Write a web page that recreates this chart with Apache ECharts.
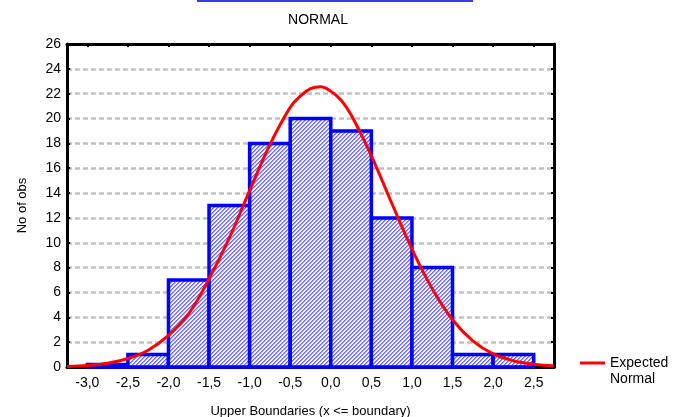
<!DOCTYPE html>
<html>
<head>
<meta charset="utf-8">
<script src="https://cdn.jsdelivr.net/npm/echarts@6/dist/echarts.min.js"></script>
<style>
html,body{margin:0;padding:0;background:#fff;}
#chart{width:678px;height:417px;}
</style>
</head>
<body>
<div id="chart"></div>
<script>
// Histogram bins: lower bound, upper bound, count
var binLower = [-3.0, -2.5, -2.0, -1.5, -1.0, -0.5, 0.0, 0.5, 1.0, 1.5, 2.0];
var binUpper = [-2.5, -2.0, -1.5, -1.0, -0.5, 0.0, 0.5, 1.0, 1.5, 2.0, 2.5];
var counts   = [0.2, 1, 7, 13, 18, 20, 19, 12, 8, 1, 1];

// Expected normal curve
var curveX = [-3.25, -3.0, -2.75, -2.5, -2.25, -2.0, -1.75, -1.5, -1.25, -1.0, -0.75, -0.5, -0.375, -0.25, -0.125, 0.0, 0.125, 0.25, 0.5, 0.75, 1.0, 1.25, 1.5, 1.75, 2.0, 2.25, 2.5, 2.75];
var curveY = [0.05, 0.12, 0.3, 0.68, 1.35, 2.55, 4.3, 7.1, 10.4, 14.2, 17.9, 20.9, 21.8, 22.4, 22.55, 22.2, 21.5, 20.3, 17.0, 13.2, 9.5, 6.3, 3.8, 2.1, 1.05, 0.5, 0.22, 0.09];

// Axis tick labels
var xTicks = [-3.0, -2.5, -2.0, -1.5, -1.0, -0.5, 0.0, 0.5, 1.0, 1.5, 2.0, 2.5];
var yTicks = [0, 2, 4, 6, 8, 10, 12, 14, 16, 18, 20, 22, 24, 26];

var FONT = "'Liberation Sans', Arial, sans-serif";

// hatch pattern
var pc = document.createElement('canvas');
pc.width = 4; pc.height = 4;
var g = pc.getContext('2d');
for (var px = 0; px < 4; px++) {
  for (var py = 0; py < 4; py++) {
    var k = (px + py) % 4;
    g.fillStyle = (k === 0) ? '#6a6aff' : (k === 1 ? '#9a9aff' : '#f2f2ff');
    g.fillRect(px, py, 1, 1);
  }
}

var barData = binLower.map(function (lo, i) { return [lo, binUpper[i], counts[i]]; });
var lineData = curveX.map(function (x, i) { return [x, curveY[i]]; });

var chart = echarts.init(document.getElementById('chart'), null, {renderer: 'canvas'});

var tickFmt = function (v) { return (Math.round(v * 10) / 10).toFixed(1).replace('.', ','); };

var frameLine = {show: true, onZero: false, lineStyle: {color: '#000', width: 3}};
var tickStyle = {color: '#000', width: 2};

var option = {
  animation: false,
  backgroundColor: '#ffffff',
  title: {
    text: 'NORMAL',
    left: 313, top: 8, textAlign: 'center',
    textStyle: {fontFamily: FONT, fontSize: 14, fontWeight: 'normal', color: '#000'}
  },
  graphic: [{
    type: 'rect', shape: {x: 197, y: 0, width: 276, height: 2},
    style: {fill: '#3a3ae0'}, silent: true
  }],
  legend: {
    left: 575, top: 334,
    itemWidth: 25, itemHeight: 3,
    data: [{name: 'Expected Normal', icon: 'rect'}],
    formatter: function () { return ' \nExpected\nNormal'; },
    textStyle: {fontFamily: FONT, fontSize: 14, color: '#000', lineHeight: 16}
  },
  grid: {left: 67, right: 124, top: 44, bottom: 50, containLabel: false, outerBoundsMode: 'none'},
  xAxis: [{
    type: 'value', min: -3.25, max: 2.75, position: 'bottom',
    name: 'Upper Boundaries (x <= boundary)', nameLocation: 'middle', nameGap: 38,
    nameTextStyle: {fontFamily: FONT, fontSize: 13, color: '#000'},
    axisLine: frameLine,
    axisTick: {show: true, inside: true, length: 3, customValues: xTicks, lineStyle: tickStyle},
    axisLabel: {show: true, customValues: xTicks, formatter: tickFmt, margin: 9, fontFamily: FONT, fontSize: 14, color: '#000'},
    splitLine: {show: false}
  }, {
    type: 'value', min: -3.25, max: 2.75, position: 'top',
    axisLine: frameLine,
    axisTick: {show: true, inside: true, length: 3, customValues: xTicks, lineStyle: tickStyle},
    axisLabel: {show: false},
    splitLine: {show: false}
  }],
  yAxis: [{
    type: 'value', min: 0, max: 26, interval: 2, position: 'left',
    name: 'No of obs', nameLocation: 'middle', nameGap: 38,
    nameTextStyle: {fontFamily: FONT, fontSize: 13, color: '#000'},
    axisLine: frameLine,
    axisTick: {show: true, inside: true, length: 3, lineStyle: tickStyle},
    axisLabel: {margin: 6, fontFamily: FONT, fontSize: 14, color: '#000',
      formatter: function (v) { return yTicks.indexOf(v) >= 0 ? String(v) : ''; }},
    splitLine: {show: true, lineStyle: {color: '#c0c0c0', width: 2.5, type: [5, 3]}}
  }, {
    type: 'value', min: 0, max: 26, interval: 2, position: 'right',
    axisLine: frameLine,
    axisTick: {show: true, inside: true, length: 3, lineStyle: tickStyle},
    axisLabel: {show: false},
    splitLine: {show: false}
  }],
  series: [{
    type: 'custom', name: 'Histogram',
    xAxisIndex: 0, yAxisIndex: 0, z: 3,
    data: barData,
    renderItem: function (params, api) {
      var p0 = api.coord([api.value(0), 0]);
      var p1 = api.coord([api.value(1), api.value(2)]);
      return {
        type: 'rect',
        shape: {x: p0[0], y: p1[1], width: p1[0] - p0[0], height: p0[1] - p1[1]},
        style: {fill: {image: pc, repeat: 'repeat'}, stroke: '#0000ff', lineWidth: 3.5}
      };
    }
  }, {
    type: 'line', name: 'Expected Normal',
    xAxisIndex: 0, yAxisIndex: 0, z: 5,
    data: lineData, smooth: 0.4, showSymbol: false,
    lineStyle: {color: '#ff0000', width: 3},
    itemStyle: {color: '#ff0000'}
  }]
};
chart.setOption(option);
</script>
</body>
</html>
